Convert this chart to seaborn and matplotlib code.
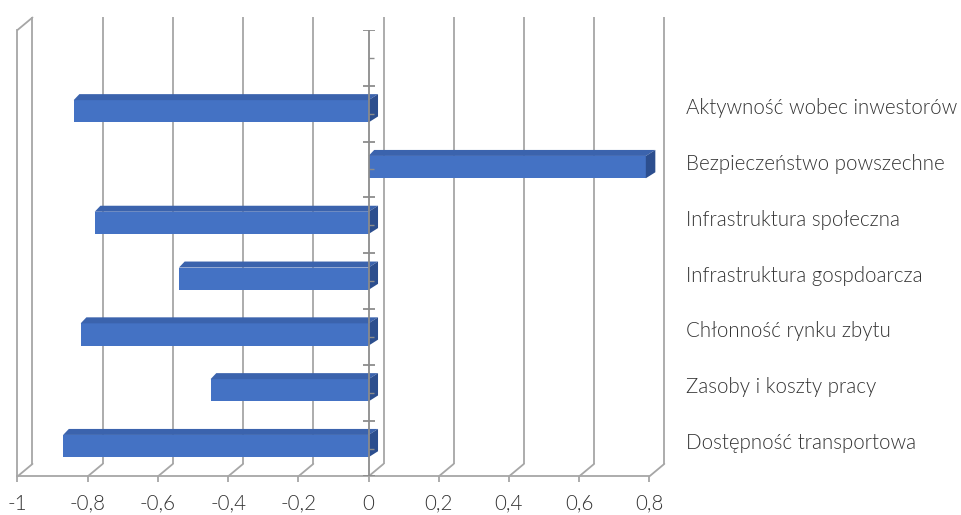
import numpy as np
import pandas as pd
import seaborn as sns
import matplotlib
matplotlib.use("Agg")
import matplotlib.pyplot as plt
from matplotlib.patches import Polygon
from matplotlib.transforms import ScaledTranslation

# Factor scores, listed top to bottom
categories = [
    "Aktywność wobec inwestorów",
    "Bezpieczeństwo powszechne",
    "Infrastruktura społeczna",
    "Infrastruktura gospdoarcza",
    "Chłonność rynku zbytu",
    "Zasoby i koszty pracy",
    "Dostępność transportowa",
]
values = [-0.84, 0.79, -0.78, -0.54, -0.82, -0.45, -0.87]

x_ticks = [-1.0, -0.8, -0.6, -0.4, -0.2, 0.0, 0.2, 0.4, 0.6, 0.8]
x_tick_labels = ["-1", "-0,8", "-0,6", "-0,4", "-0,2", "0", "0,2", "0,4", "0,6", "0,8"]

sns.set_theme(style="white")
plt.rcParams["font.family"] = ["Lato", "DejaVu Sans"]
plt.rcParams["font.weight"] = 300

FRONT = "#4472C4"
TOP = "#3B63AD"
SIDE = "#2C4E8E"
GRID = "#a6a6a6"
TEXT = "#333333"

fig = plt.figure(figsize=(9.62, 5.15), dpi=100)
ax = fig.add_axes([0.01819, 0.07495, 0.6568, 0.8668])

df = pd.DataFrame({"category": categories, "value": values})
sns.barplot(data=df, x="value", y="category", order=categories, orient="h",
            color=FRONT, width=0.4, saturation=1, linewidth=0, ax=ax, zorder=3)

ax.set_xlim(-1, 0.8)
ax.set_ylim(len(categories) - 0.5, -1.5)

# pseudo-3D depth offsets (data units)
px_x = 351.0   # pixels per unit on x
px_y = 55.8    # pixels per category slot
DXg, DYg = 15 / px_x, -12.5 / px_y      # wall / floor depth
DXb, DYb = 9.5 / px_x, -6 / px_y        # bar depth

shift = ScaledTranslation(0, 2.4 / 100, fig.dpi_scale_trans)
bar_tr = ax.transData + shift

for p in list(ax.patches):
    p.set_transform(bar_tr)
    x0, w, y0, h = p.get_x(), p.get_width(), p.get_y(), p.get_height()
    L, R = min(x0, x0 + w), max(x0, x0 + w)
    top = Polygon([(L, y0), (R, y0), (R + DXb, y0 + DYb), (L + DXb * 0.6, y0 + DYb)],
                  closed=True, facecolor=TOP, edgecolor="none",
                  transform=bar_tr, zorder=3, clip_on=False)
    side = Polygon([(R, y0), (R, y0 + h), (R + DXb, y0 + h + DYb), (R + DXb, y0 + DYb)],
                   closed=True, facecolor=SIDE, edgecolor="none",
                   transform=bar_tr, zorder=3, clip_on=False)
    ax.add_patch(top)
    ax.add_patch(side)

y_top, y_bot = -1.5, len(categories) - 0.5

# back wall gridlines with their floor diagonals
for t in x_ticks:
    ax.plot([t + DXg, t + DXg], [y_top + DYg, y_bot + DYg], color=GRID, lw=1.3,
            zorder=1, clip_on=False, solid_capstyle="butt")
    ax.plot([t + DXg, t], [y_bot + DYg, y_bot], color=GRID, lw=1.3,
            zorder=1, clip_on=False)
# top edge of the side wall
ax.plot([-1, -1 + DXg], [y_top, y_top + DYg], color=GRID, lw=1.3, zorder=1, clip_on=False)

# category axis at zero
tk_major = 6 / px_x
tk_minor = 5 / px_x
ax.vlines(0, y_top, y_bot, color="#8c8c8c", lw=1.3, zorder=5)
ax.hlines(np.arange(y_top, y_bot + 0.01, 1.0), -tk_major, tk_major, color="#8c8c8c",
          lw=1.3, zorder=5)
ax.hlines(np.arange(-1, len(categories)), 0, tk_minor, color="#8c8c8c", lw=1.0, zorder=5)

for side_name in ["top", "right"]:
    ax.spines[side_name].set_visible(False)
for side_name in ["left", "bottom"]:
    ax.spines[side_name].set_color(GRID)
    ax.spines[side_name].set_linewidth(1.3)

ax.set_xticks(x_ticks)
ax.set_xticklabels(x_tick_labels)
ax.tick_params(axis="x", length=4, width=1.3, color=GRID, direction="out",
               pad=8.5, labelsize=14.8, labelcolor=TEXT, bottom=True)

ax.yaxis.tick_right()
ax.set_yticks(range(len(categories)))
ax.set_yticklabels(categories)
ax.tick_params(axis="y", length=0, pad=26.4, labelsize=14.8, labelcolor=TEXT,
               left=False, right=True)
lab_shift = ScaledTranslation(0, 7.5 / 100, fig.dpi_scale_trans)
for lab in ax.get_yticklabels():
    lab.set_transform(lab.get_transform() + lab_shift)
    lab.set_horizontalalignment("left")
for lab in ax.get_xticklabels() + ax.get_yticklabels():
    lab.set_fontweight(300)

ax.set_xlabel("")
ax.set_ylabel("")
ax.set_facecolor("white")
fig.patch.set_facecolor("white")

fig.savefig("out.png", dpi=100, facecolor="white")
